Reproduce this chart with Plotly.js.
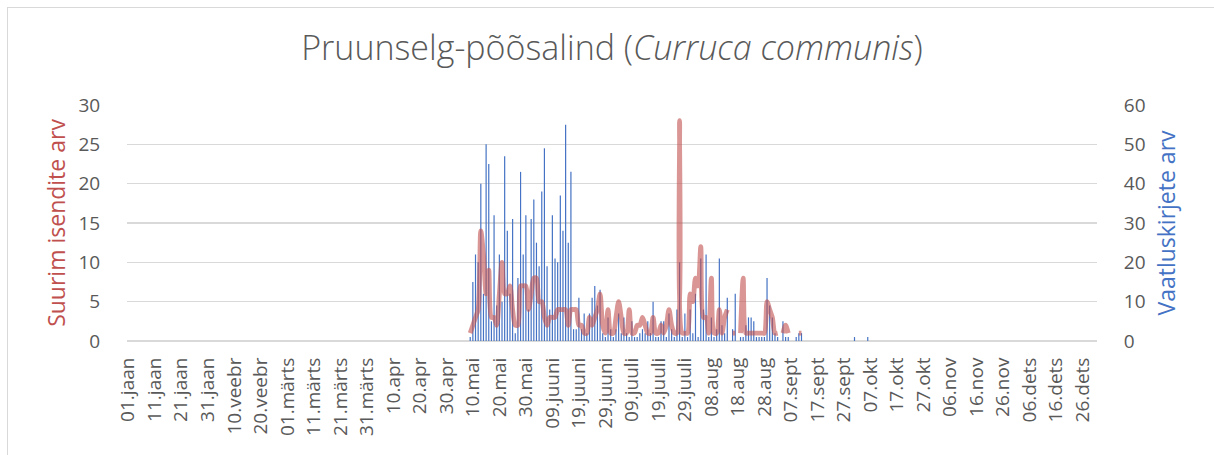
<!DOCTYPE html>
<html>
<head>
<meta charset="utf-8">
<script src="https://cdn.plot.ly/plotly-3.0.1.min.js"></script>
<style>
  html, body { margin:0; padding:0; background:#ffffff; overflow:hidden; }
  #wrap { position:relative; width:1214px; height:455px; }
  #frame { position:absolute; left:7px; top:7px; width:1300px; height:600px; border:1px solid #d9d9d9; pointer-events:none; }
  #chart { position:absolute; left:0; top:0; width:1214px; height:455px; }
</style>
</head>
<body>
<div id="wrap"><div id="chart"></div><div id="frame"></div></div>
<script>
// Day-of-year index (0 = 01.jaan, leap year) where the season data begins (09.mai)
const seasonStartDay = 129;

// Suurim isendite arv (max individuals per day), from 09.mai onwards; null = no data
const maxIndividuals = [
  1,2,3,4,14,11,6,9,3,3,
  2,6,10,6,6,7,4,2,2,7,
  7,7,4,6,8,8,5,5,3,2,
  3,3,3,4,4,4,4,2,4,4,
  4,2,2,1,1,3,2,3,4,6,
  2,1,4,1,1,3,5,3,1,1,
  4,1,1,2,2,3,2,1,1,3,
  1,1,2,1,2,4,2,1,1,28,
  1,1,1,6,5,8,7,12,3,3,
  1,8,1,1,4,1,3,4,null,1,
  1,null,1,8,1,1,1,1,1,1,
  1,1,5,4,3,1,1,null,1,2,
  1,null,null,null,1,1
];

// Vaatluskirjete arv (number of observation records per day), from 09.mai onwards
const recordCounts = [
  1,15,22,20,40,12,50,45,5,32,
  9,22,10,47,28,12,31,2,16,43,
  22,32,8,31,36,25,19,38,49,19,
  8,32,21,20,37,28,55,25,43,3,
  3,11,3,7,2,7,11,14,9,13,
  2,1,6,3,1,3,7,2,6,2,
  1,5,1,1,2,3,2,5,2,10,
  1,1,5,5,1,7,3,1,8,20,
  1,7,1,8,2,12,1,21,8,22,
  1,6,1,3,21,4,2,11,null,3,
  12,null,1,1,4,6,6,5,1,1,
  1,1,16,9,6,2,1,null,5,1,
  1,null,null,1,2,2
];

// Isolated late records (day-of-year index) and their counts
const lateRecordDays = [274, 279];
const lateRecordCounts = [1, 1];

// X-axis tick labels, every 10th day from 01.jaan
const tickLabels = [
  '01.jaan','11.jaan','21.jaan','31.jaan','10.veebr','20.veebr','01.märts','11.märts',
  '21.märts','31.märts','10.apr','20.apr','30.apr','10.mai','20.mai','30.mai',
  '09.juuni','19.juuni','29.juuni','09.juuli','19.juuli','29.juuli','08.aug','18.aug',
  '28.aug','07.sept','17.sept','27.sept','07.okt','17.okt','27.okt','06.nov',
  '16.nov','26.nov','06.dets','16.dets','26.dets'
];
const tickStep = 10;
const daysInYear = 366;

const seasonDays = maxIndividuals.map((_, i) => seasonStartDay + i);
const barDays = seasonDays.concat(lateRecordDays);
const barValues = recordCounts.concat(lateRecordCounts);
const tickVals = tickLabels.map((_, i) => i * tickStep);

const FONT = 'Open Sans, Liberation Sans, sans-serif';
const GREY = '#595959';
const RED = '#C0504D';
const BLUE = '#4472C4';

const traces = [
  {
    type: 'bar',
    name: 'Vaatluskirjete arv',
    x: barDays,
    y: barValues,
    yaxis: 'y',
    width: 0.45,
    marker: { color: BLUE, line: { width: 0 } },
    hoverinfo: 'x+y'
  },
  {
    type: 'scatter',
    mode: 'lines',
    name: 'Suurim isendite arv',
    x: seasonDays,
    y: maxIndividuals,
    yaxis: 'y2',
    connectgaps: false,
    line: { color: 'rgba(192,80,77,0.6)', width: 4.8, shape: 'spline', smoothing: 0.8 },
    hoverinfo: 'x+y'
  }
];

const layout = {
  width: 1214,
  height: 455,
  margin: { l: 127, r: 117, t: 105, b: 114, pad: 0 },
  paper_bgcolor: 'rgba(0,0,0,0)',
  plot_bgcolor: 'rgba(0,0,0,0)',
  showlegend: false,
  font: { family: FONT, color: GREY, size: 19 },
  title: {
    text: 'Pruunselg-põõsalind (<i>Curruca communis</i>)',
    font: { family: FONT, size: 34, color: GREY, weight: 300 },
    x: 0.5, xref: 'paper', xanchor: 'center',
    y: 1 - 48 / 455, yref: 'container', yanchor: 'middle'
  },
  xaxis: {
    range: [-0.5, daysInYear - 0.5],
    tickmode: 'array',
    tickvals: tickVals,
    ticktext: tickLabels,
    tickangle: -90,
    ticks: 'outside', ticklen: 8, tickcolor: 'rgba(0,0,0,0)',
    showgrid: false, zeroline: false, showline: false,
    tickfont: { family: FONT, size: 19, color: GREY },
    fixedrange: true
  },
  yaxis: {
    range: [0, 60],
    side: 'right',
    tickmode: 'linear', tick0: 0, dtick: 10,
    showgrid: true, gridcolor: '#d9d9d9', gridwidth: 1.3,
    zeroline: true, zerolinecolor: '#d9d9d9', zerolinewidth: 1.3,
    showline: false,
    ticks: 'outside', ticklen: 22, tickcolor: 'rgba(0,0,0,0)',
    tickfont: { family: FONT, size: 19, color: GREY },
    title: { text: 'Vaatluskirjete arv', font: { family: FONT, size: 23, color: BLUE }, standoff: 14 },
    fixedrange: true
  },
  yaxis2: {
    range: [0, 30],
    overlaying: 'y',
    side: 'left',
    tickmode: 'linear', tick0: 0, dtick: 5,
    showgrid: false, zeroline: false, showline: false,
    ticks: 'outside', ticklen: 22, tickcolor: 'rgba(0,0,0,0)',
    tickfont: { family: FONT, size: 19, color: GREY },
    title: { text: 'Suurim isendite arv', font: { family: FONT, size: 23, color: RED }, standoff: 6 },
    fixedrange: true
  }
};

Plotly.newPlot('chart', traces, layout, { displayModeBar: false, staticPlot: true });
</script>
</body>
</html>
